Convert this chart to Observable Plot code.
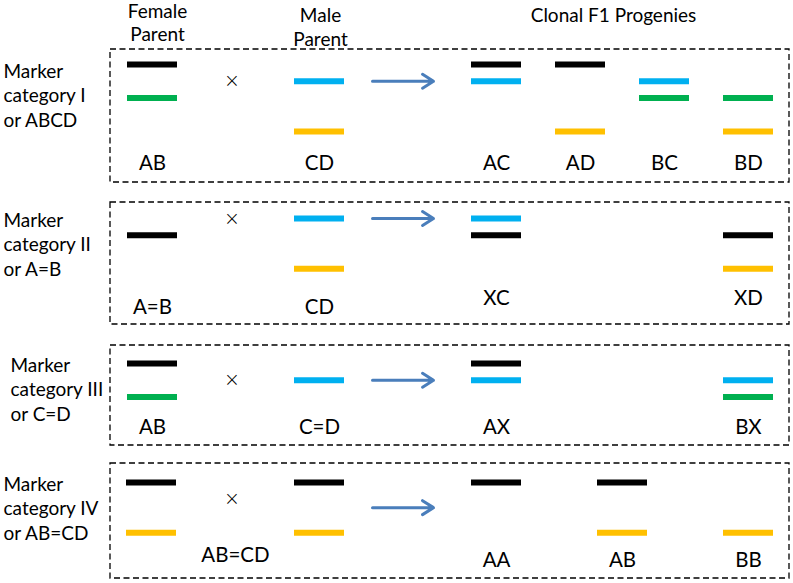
<!DOCTYPE html>
<html>
<head>
<meta charset="utf-8">
<script src="https://cdn.jsdelivr.net/npm/d3@7"></script>
<script src="https://cdn.jsdelivr.net/npm/@observablehq/plot@0.6"></script>
<style>
  html, body { margin: 0; padding: 0; background: #fff; }
  #chart svg { display: block; }
</style>
</head>
<body>
<div id="chart"></div>
<script>
// ---------- data ----------
const categories = ["I", "II", "III", "IV"];
const categoryLabels = [
  "Marker\ncategory I\nor ABCD",
  "Marker\ncategory II\nor A=B",
  "Marker\ncategory III\nor C=D",
  "Marker\ncategory IV\nor AB=CD"
];
const columns = ["F", "M", "P1", "P2", "P3", "P4"];
const headers = ["Female\nParent", "Male\nParent", "Clonal F1 Progenies"];

// genotype labels per category: [female, male, P1..P4]
const genotypeLabels = [
  ["AB", "CD", "AC", "AD", "BC", "BD"],
  ["A=B", "CD", "XC", null, null, "XD"],
  ["AB", "C=D", "AX", null, null, "BX"],
  [null, "AB=CD", "AA", "AB", null, "BB"]
];

// allele band level (1 = top band) and colour per category
const alleleLevels = [
  {A: 1, C: 2, B: 3, D: 5},
  {C: 1, A: 2, D: 4},
  {A: 1, C: 2, B: 3},
  {A: 1, B: 4}
];
const alleleColours = [
  {A: "black", B: "green", C: "blue", D: "yellow"},
  {A: "black", C: "blue", D: "yellow"},
  {A: "black", B: "green", C: "blue"},
  {A: "black", B: "yellow"}
];

// bands shown in each column: [column, allele]
const bandsI = [["F","A"],["F","B"],["M","C"],["M","D"],["P1","A"],["P1","C"],["P2","A"],["P2","D"],["P3","C"],["P3","B"],["P4","B"],["P4","D"]];
const bandsII = [["F","A"],["M","C"],["M","D"],["P1","C"],["P1","A"],["P4","A"],["P4","D"]];
const bandsIII = [["F","A"],["F","B"],["M","C"],["P1","A"],["P1","C"],["P4","C"],["P4","B"]];
const bandsIV = [["F","A"],["F","B"],["M","A"],["M","B"],["P1","A"],["P2","A"],["P2","B"],["P4","B"]];
const bandsByCategory = [bandsI, bandsII, bandsIII, bandsIV];

const crossLevel = [2, 1, 2, 2];
const arrowLevel = [2, 1, 2, 2.5];

// ---------- layout ----------
const W = 793, H = 583;
const colXDefault = {F: 152, M: 319, P1: 496, P2: 580, P3: 664, P4: 748};
const colXIV = {F: 151, M: 319, P1: 496, P2: 622, P3: 664, P4: 748};
const colXFor = i => (i === 3 ? colXIV : colXDefault);
const bandHalf = 25;
const panelTop = [49, 202, 345, 463];
const panelBottom = [182, 324, 445, 578];
const firstBand = [15, 16, 18, 19];
const step = 16.75;
const parentLabelOffset = [114, 105, 82, 92];
const progenyLabelOffset = [114, 96, 82, 97];
const rowLabelX = [3, 3, 10, 3];
const rowLabelY = [94, 243, 388, 507];
const boxX1 = 110, boxX2 = 789;
const palette = {black: "#000000", green: "#00B050", blue: "#00B0F0", yellow: "#FFC000"};

const levelY = (i, lvl) => panelTop[i] + firstBand[i] + (lvl - 1) * step;

const bands = [];
bandsByCategory.forEach((list, i) => {
  const cx = colXFor(i);
  list.forEach(([col, allele]) => {
    bands.push({cat: i, x1: cx[col] - bandHalf, x2: cx[col] + bandHalf, y: levelY(i, alleleLevels[i][allele]), colour: palette[alleleColours[i][allele]]});
  });
});

const labels = [];
genotypeLabels.forEach((row, i) => {
  const cx = colXFor(i);
  row.forEach((t, j) => {
    if (t == null) return;
    const col = columns[j];
    let x = cx[col];
    if (i === 3 && col === "M") x = 235; // AB=CD label centred between parents
    const off = j < 2 ? parentLabelOffset[i] : progenyLabelOffset[i];
    labels.push({x, y: panelTop[i] + off, text: t});
  });
});

const panels = categories.map((c, i) => ({cat: c, y1: panelTop[i], y2: panelBottom[i], label: categoryLabels[i], lx: rowLabelX[i], ly: rowLabelY[i]}));
const crosses = categories.map((c, i) => ({x: (colXDefault.F + colXDefault.M) / 2 - 4, y: levelY(i, crossLevel[i]) }));
const arrows = categories.map((c, i) => ({x1: colXDefault.M + bandHalf + 28, x2: colXDefault.P1 - bandHalf - 38, y: levelY(i, arrowLevel[i])}));
const headerData = [
  {x: 157, y: 21.5, text: headers[0]},
  {x: 320, y: 26, text: headers[1]},
  {x: 613, y: 14, text: headers[2]}
];

const font = "Lato, 'Open Sans', sans-serif";

const chart = Plot.plot({
  width: W, height: H, margin: 0,
  x: {domain: [0, W], range: [0, W], axis: null},
  y: {domain: [0, H], range: [0, H], axis: null},
  style: {fontFamily: font, background: "#fff"},
  marks: [
    Plot.rect(panels, {x1: boxX1, x2: boxX2, y1: "y1", y2: "y2", fill: "none", stroke: "#000", strokeWidth: 1.3, strokeDasharray: "6,3.5"}),
    Plot.ruleY(bands, {y: "y", x1: "x1", x2: "x2", stroke: "colour", strokeWidth: 6}),
    Plot.arrow(arrows, {x1: "x1", x2: "x2", y1: "y", y2: "y", stroke: "#4A7EBB", strokeWidth: 3, headLength: 6.5, headAngle: 65, bend: 0}),
    Plot.text(crosses, {x: "x", y: "y", text: () => "×", fontSize: 19, fill: "#000", fontFamily: "DejaVu Sans", fontWeight: 300}),
    Plot.text(labels, {x: "x", y: "y", text: "text", fontSize: 20.5, fill: "#000", fontFamily: font}),
    Plot.text(panels, {x: "lx", y: "ly", text: "label", textAnchor: "start", lineAnchor: "middle", lineHeight: 1.3, fontSize: 19, fill: "#000", fontFamily: font}),
    Plot.text(headerData, {x: "x", y: "y", text: "text", lineAnchor: "middle", lineHeight: 1.25, fontSize: 19, fill: "#000", fontFamily: font})
  ]
});
document.getElementById("chart").appendChild(chart);
</script>
</body>
</html>
